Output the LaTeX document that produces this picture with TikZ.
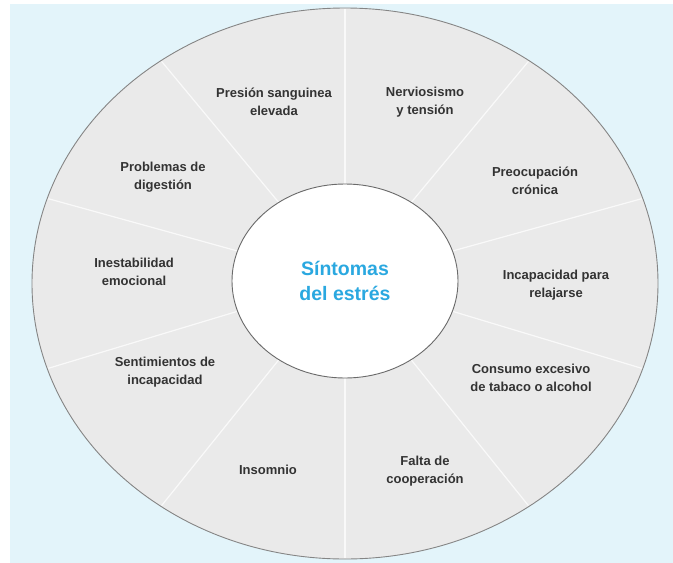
\documentclass[tikz,border=0pt]{standalone}
\usepackage{fontspec}
\setmainfont{Liberation Sans}
\usetikzlibrary{shapes.geometric}
\definecolor{bgblue}{HTML}{E3F4FA}
\definecolor{wheelgray}{HTML}{EAEAEA}
\definecolor{rimgray}{HTML}{858585}
\definecolor{hubrim}{HTML}{6A6A6A}
\definecolor{labeltext}{HTML}{333333}
\definecolor{titleblue}{HTML}{2AA8E0}
\begin{document}
\begin{tikzpicture}[x=1pt,y=-1pt,
  symptom/.style={align=center,font=\fontsize{13}{18}\selectfont\bfseries,text=labeltext,inner sep=0pt},
  divider/.style={white,line width=1.2pt,opacity=0.75},
  hubstyle/.style={ellipse,fill=white,draw=hubrim,line width=0.9pt,minimum width=226pt,minimum height=194pt,inner sep=0pt,
    align=center,font=\fontsize{19.5}{25}\selectfont\bfseries,text=titleblue}]
\useasboundingbox (0,0) rectangle (673,563);
\fill[white] (0,0) rectangle (673,563);
\fill[bgblue] (10,4) rectangle (673,563);

% outer wheel
\coordinate (wc) at (345,283.5);
\coordinate (hc) at (345,281);
\fill[wheelgray] (wc) ellipse [x radius=313, y radius=275.5];

% ten sector dividers
\foreach \a [count=\i] in {90,54,18,-18,-54,-90,-126,-162,162,126} {
  \coordinate (din\i) at ([shift={(\a:100 and 86)}]hc);
  \coordinate (dout\i) at ([shift={(\a:312 and 274.5)}]wc);
  \draw[divider] (din\i) -- (dout\i);
}
\draw[rimgray,line width=0.9pt] (wc) ellipse [x radius=313, y radius=275.5];

% hub
\node[hubstyle] (hub) at (hc) {Síntomas\\del estrés};

% symptoms
\node[symptom] (s1) at (274,102) {Presión sanguinea\\elevada};
\node[symptom] (s2) at (425,102) {Nerviosismo\\y tensión};
\node[symptom] (s3) at (163,177) {Problemas de\\digestión};
\node[symptom] (s4) at (535,181) {Preocupación\\crónica};
\node[symptom] (s5) at (134,272) {Inestabilidad\\emocional};
\node[symptom] (s6) at (556,285) {Incapacidad para\\relajarse};
\node[symptom] (s7) at (165,372) {Sentimientos de\\incapacidad};
\node[symptom] (s8) at (531,378) {Consumo excesivo\\de tabaco o alcohol};
\node[symptom] (s9) at (268,470) {Insomnio};
\node[symptom] (s10) at (425,471) {Falta de\\cooperación};
\end{tikzpicture}
\end{document}
